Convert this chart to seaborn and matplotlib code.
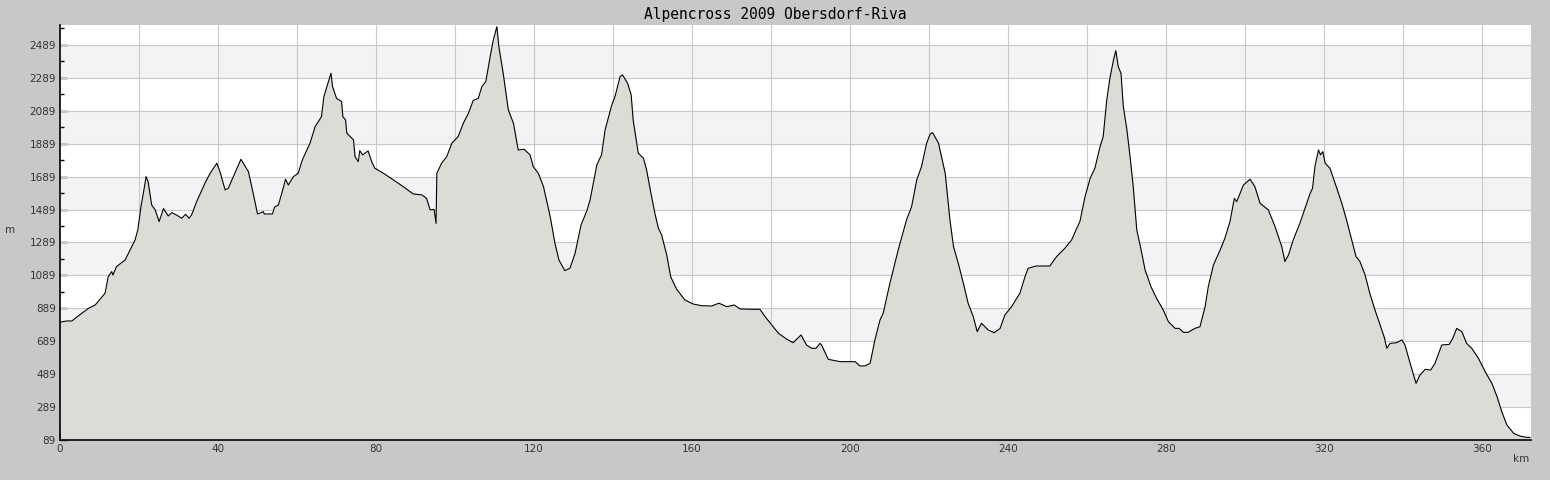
import numpy as np
import pandas as pd
import matplotlib
matplotlib.use("Agg")
import matplotlib.pyplot as plt
import seaborn as sns
from matplotlib.ticker import MultipleLocator, FixedLocator, FuncFormatter

# Höhenprofil (km, m)
km = [0, 1.7, 3.0, 4.6, 7.2, 8.9, 11.4, 12.2, 13.1, 13.4, 14.3, 16.5, 19.0, 19.7, 20.5,
      21.1, 21.8, 22.3, 23.2, 24.1, 25.1, 26.2, 27.4, 28.3, 29.5, 30.8, 31.8, 32.7, 33.3,
      34.6, 36.7, 38.0, 39.7, 40.5, 41.8, 42.6, 43.9, 45.8, 47.7, 48.9, 50.0, 51.5, 51.7,
      53.8, 54.3, 55.3, 56.5, 57.1, 57.8, 59.1, 60.3, 61.2, 62.0, 63.3, 64.6, 66.2, 66.8,
      67.7, 68.6, 69.0, 70.0, 71.3, 71.6, 72.3, 72.6, 74.3, 74.7, 75.5, 75.9, 76.6, 78.0,
      78.9, 79.7, 81.9, 84.4, 86.9, 89.4, 91.6, 92.8, 93.7, 94.7, 95.2, 95.4, 96.6, 97.9,
      99.2, 100.8, 102.1, 103.4, 104.6, 105.9, 106.8, 107.8, 108.9, 109.7, 110.6, 111.1,
      112.2, 113.5, 114.8, 116.0, 117.5, 119.0, 119.8, 121.1, 122.4, 124.1, 125.3, 126.3,
      127.8, 129.1, 130.4, 131.9, 133.3, 134.2, 135.9, 137.1, 138.0, 138.8, 139.7, 140.5,
      141.8, 142.4, 143.7, 144.6, 145.1, 146.4, 147.7, 148.5, 149.6, 150.6, 151.5, 152.3,
      153.6, 154.6, 156.1, 158.2, 160.3, 162.4, 165.0, 166.8, 168.8, 170.7, 172.2, 175.1,
      177.2, 178.5, 180.2, 181.9, 184.0, 185.6, 187.6, 189.0, 190.3, 191.4, 192.4, 192.8,
      194.5, 197.5, 200.0, 201.3, 202.5, 203.8, 205.1, 206.3, 207.6, 208.4, 210.1, 212.2,
      214.3, 215.6, 216.9, 218.1, 219.4, 220.3, 220.9, 222.4, 224.1, 225.3, 226.2, 227.4,
      228.7, 229.9, 231.2, 232.2, 233.3, 235.0, 236.5, 238.0, 239.2, 240.9, 243.0, 244.3,
      245.1, 247.1, 250.6, 252.3, 254.4, 256.1, 257.4, 258.2, 259.5, 260.8, 262.0, 263.3,
      264.1, 265.0, 265.8, 266.7, 267.3, 267.9, 268.6, 269.2, 270.1, 270.9, 271.7, 272.6,
      273.7, 274.7, 276.2, 277.6, 279.3, 280.6, 282.3, 283.3, 284.4, 285.6, 287.3, 288.6,
      289.9, 290.7, 292.0, 293.7, 294.9, 296.2, 297.3, 297.9, 299.6, 301.3, 302.5, 303.8,
      305.9, 307.6, 309.3, 310.1, 311.0, 312.2, 313.9, 315.2, 316.5, 317.1, 317.7, 318.6,
      319.1, 319.7, 320.3, 321.5, 322.8, 324.5, 325.7, 327.0, 328.1, 329.1, 330.4, 331.6,
      332.9, 334.2, 335.2, 335.9, 336.7, 338.4, 339.7, 340.5, 341.8, 343.3, 344.3, 345.6,
      347.0, 348.1, 349.8, 351.7, 352.6, 353.6, 354.9, 356.1, 357.4, 359.1, 360.8, 362.5,
      363.8, 365.0, 366.3, 368.0, 369.6, 371.3, 372.2]
hoehe = [805, 812, 812, 842, 889, 909, 980, 1081, 1112, 1091, 1142, 1183, 1304, 1365, 1507,
         1588, 1689, 1659, 1517, 1487, 1416, 1495, 1450, 1470, 1456, 1436, 1460, 1436, 1456,
         1537, 1649, 1709, 1770, 1719, 1608, 1618, 1689, 1794, 1719, 1588, 1462, 1476, 1462,
         1462, 1503, 1517, 1618, 1673, 1638, 1689, 1709, 1780, 1825, 1892, 1993, 2053, 2175,
         2246, 2317, 2236, 2165, 2145, 2053, 2033, 1953, 1912, 1810, 1780, 1847, 1821, 1845,
         1780, 1740, 1709, 1669, 1628, 1584, 1578, 1557, 1487, 1490, 1405, 1709, 1770, 1810,
         1892, 1932, 2013, 2074, 2151, 2165, 2236, 2266, 2418, 2519, 2600, 2479,
         2317, 2094, 2013, 1851, 1855, 1821, 1750, 1709, 1628, 1446, 1284, 1183,
         1118, 1132, 1223, 1395, 1476, 1547, 1760, 1821, 1973, 2044, 2125, 2175,
         2296, 2307, 2256, 2185, 2033, 1831, 1801, 1730, 1588, 1466, 1375, 1335,
         1213, 1081, 1005, 940, 915, 905, 903, 920, 899, 909, 885, 883,
         883, 838, 788, 737, 701, 680, 727, 666, 646, 646, 676, 666,
         579, 565, 565, 565, 539, 539, 555, 697, 818, 859, 1041, 1243,
         1426, 1507, 1669, 1750, 1892, 1948, 1956, 1892, 1709, 1426, 1264, 1163,
         1041, 920, 838, 747, 798, 757, 741, 767, 848, 899, 980, 1081,
         1132, 1146, 1146, 1203, 1254, 1304, 1375, 1416, 1567, 1679, 1740, 1871,
         1932, 2155, 2287, 2398, 2454, 2357, 2317, 2114, 1973, 1810, 1628, 1365,
         1243, 1122, 1020, 950, 879, 808, 767, 767, 743, 743, 767, 777,
         899, 1020, 1152, 1243, 1314, 1416, 1557, 1537, 1638, 1673, 1628, 1527,
         1487, 1385, 1264, 1173, 1213, 1304, 1406, 1497, 1588, 1618, 1750, 1851,
         1821, 1841, 1770, 1740, 1649, 1527, 1426, 1304, 1203, 1173, 1091, 980,
         879, 788, 717, 646, 676, 680, 697, 666, 555, 433, 484, 518,
         514, 555, 666, 670, 707, 767, 747, 676, 646, 585, 504, 433,
         352, 261, 180, 130, 113, 105, 105]

y_ticks = [89, 289, 489, 689, 889, 1089, 1289, 1489, 1689, 1889, 2089, 2289, 2489]
x_labels = [0, 40, 80, 120, 160, 200, 240, 280, 320, 360]

df = pd.DataFrame({"km": km, "m": hoehe})

sns.set_style("white")
plt.rcParams["font.family"] = ["DejaVu Sans"]

fig = plt.figure(figsize=(15.5, 4.8), dpi=100, facecolor="#c8c8c8")
ax = fig.add_axes([60 / 1550, 1 - 440 / 480, 1471 / 1550, 415 / 480])
ax.set_facecolor("white")

y_min, y_max = 89, 2610
x_max = 372.4

# abwechselnde Bänder
for lo in y_ticks[1::2]:
    ax.axhspan(lo, lo + 200, color="#f3f2f5", lw=0, zorder=0)

# Gitter unter der Fläche
ax.grid(False)
for v in y_ticks:
    ax.axhline(v, color="#c8c8c8", lw=0.8, zorder=1)
for v in np.arange(20, x_max, 20):
    ax.axvline(v, color="#c8c8c8", lw=0.8, zorder=1)

ax.fill_between(df["km"], df["m"], y_min, color="#dcdbd6", lw=0, zorder=2)
sns.lineplot(data=df, x="km", y="m", ax=ax, color="black", lw=0.8, zorder=3,
             sort=False, estimator=None)

ax.set_xlim(0, x_max)
ax.set_ylim(y_min, y_max)

ax.xaxis.set_major_locator(MultipleLocator(20))
ax.xaxis.set_minor_locator(MultipleLocator(10))
ax.xaxis.set_major_formatter(FuncFormatter(
    lambda v, p: f"{int(round(v))}" if int(round(v)) in x_labels else ""))
ax.yaxis.set_major_locator(FixedLocator(y_ticks))
ax.yaxis.set_minor_locator(FixedLocator([t + 100 for t in y_ticks]))

ax.tick_params(axis="both", which="major", direction="in", length=5, width=1,
               colors="black", labelcolor="#333333", labelsize=7.5, pad=3)
ax.tick_params(axis="both", which="minor", direction="in", length=3, width=1, colors="black")
ax.tick_params(axis="y", which="both", left=True)
ax.tick_params(axis="x", which="both", bottom=True)

for s in ["top", "right"]:
    ax.spines[s].set_visible(False)
for s in ["left", "bottom"]:
    ax.spines[s].set_color("black")
    ax.spines[s].set_linewidth(1.2)
    ax.spines[s].set_zorder(4)

ax.set_xlabel("")
ax.set_ylabel("")
fig.text(10 / 1550, 1 - 230 / 480, "m", fontsize=7.5, color="#333333",
         ha="center", va="center")
fig.text(1521 / 1550, 1 - 459 / 480, "km", fontsize=7.5, color="#333333",
         ha="center", va="center")
fig.text(775 / 1550, 1 - 14 / 480, "Alpencross 2009 Obersdorf-Riva",
         family="DejaVu Sans Mono", fontsize=10.5, color="black",
         ha="center", va="center")

fig.savefig("out.png", dpi=100, facecolor=fig.get_facecolor())
